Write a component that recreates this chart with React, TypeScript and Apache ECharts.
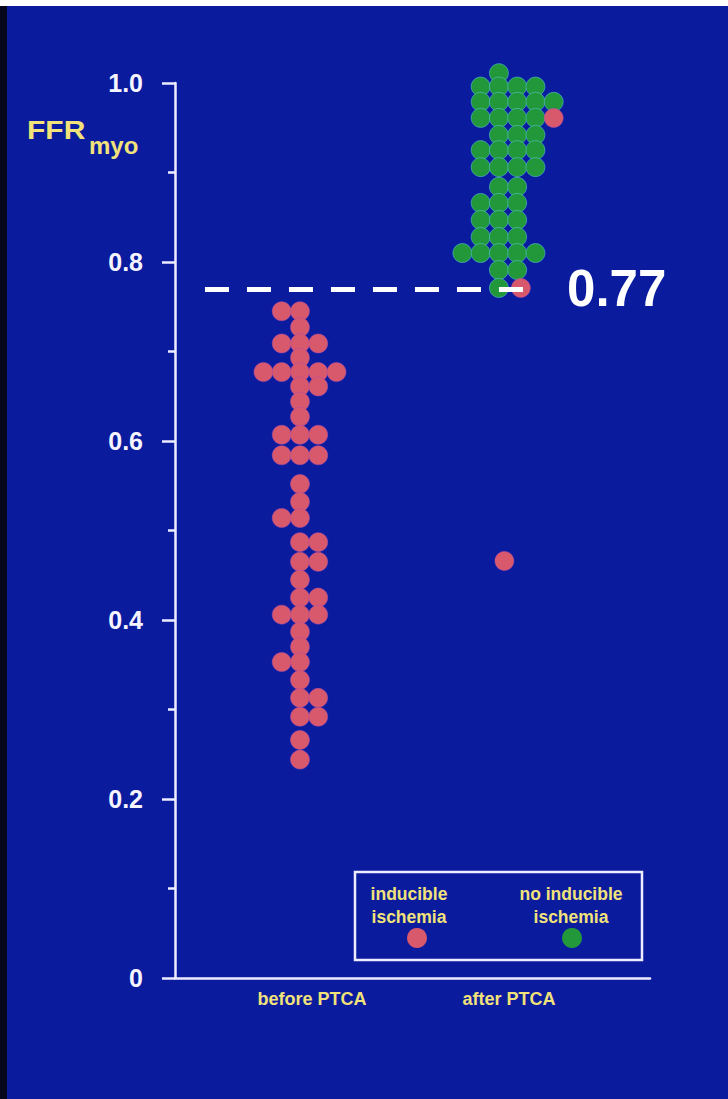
import { useEffect, useRef } from 'react';
import * as echarts from 'echarts';

// Group labels on the horizontal axis and where each group's column of dots sits
// (x is measured in dot widths).
const CATEGORIES = ['before PTCA', 'after PTCA'];
const GROUP_CENTERS = [6.84, 17.73];
const LABEL_POSITIONS = [7.5, 18.28];

// Each dot: [column offset from the group centre, FFRmyo]
const BEFORE_INDUCIBLE: [number, number][] = [
  [-1, 0.745], [0, 0.745],
  [0, 0.727],
  [-1, 0.709], [0, 0.709], [1, 0.709],
  [0, 0.693],
  [-2, 0.677], [-1, 0.677], [0, 0.677], [1, 0.677], [2, 0.677],
  [0, 0.661], [1, 0.661],
  [0, 0.644],
  [0, 0.627],
  [-1, 0.607], [0, 0.607], [1, 0.607],
  [-1, 0.584], [0, 0.584], [1, 0.584],
  [0, 0.552],
  [0, 0.532],
  [-1, 0.514], [0, 0.514],
  [0, 0.487], [1, 0.487],
  [0, 0.465], [1, 0.465],
  [0, 0.445],
  [0, 0.425], [1, 0.425],
  [-1, 0.406], [0, 0.406], [1, 0.406],
  [0, 0.387],
  [0, 0.37],
  [-1, 0.353], [0, 0.353],
  [0, 0.333],
  [0, 0.313], [1, 0.313],
  [0, 0.292], [1, 0.292],
  [0, 0.266],
  [0, 0.244],
];

const AFTER_NO_INDUCIBLE: [number, number][] = [
  [0, 1.011],
  [-1, 0.996], [0, 0.996], [1, 0.996], [2, 0.996],
  [-1, 0.979], [0, 0.979], [1, 0.979], [2, 0.979], [3, 0.979],
  [-1, 0.961], [0, 0.961], [1, 0.961], [2, 0.961],
  [0, 0.942], [1, 0.942], [2, 0.942],
  [-1, 0.925], [0, 0.925], [1, 0.925], [2, 0.925],
  [-1, 0.906], [0, 0.906], [1, 0.906], [2, 0.906],
  [0, 0.884], [1, 0.884],
  [-1, 0.866], [0, 0.866], [1, 0.866],
  [-1, 0.847], [0, 0.847], [1, 0.847],
  [-1, 0.828], [0, 0.828], [1, 0.828],
  [-2, 0.81], [-1, 0.81], [0, 0.81], [1, 0.81], [2, 0.81],
  [0, 0.791], [1, 0.791],
  [0, 0.771],
];

const AFTER_INDUCIBLE: [number, number][] = [
  [3, 0.961], [1.2, 0.771], [0.3, 0.466],
];

// Cut-off line and its extent along x
const THRESHOLD = 0.77;
const THRESHOLD_FROM = 1.64;
const THRESHOLD_TO = 19.05;

const FONT = '"Liberation Sans", Arial, Helvetica, sans-serif';
const BG = '#0a1b9e';
const AXIS = '#eeecff';
const YELLOW = '#f1e27a';
const RED = '#d8586c';
const GREEN = '#22983a';

const place = (pts: [number, number][], center: number) =>
  pts.map(([dx, v]) => [center + dx, v]);

const option: echarts.EChartsCoreOption = {
  animation: false,
  backgroundColor: BG,
  grid: { left: 175, right: 78, top: 83, bottom: 121, containLabel: false },
  xAxis: {
    type: 'value',
    min: 0,
    max: 26,
    axisLine: { show: true, lineStyle: { color: AXIS, width: 2.5 } },
    axisTick: { show: false },
    splitLine: { show: false },
    axisLabel: {
      customValues: LABEL_POSITIONS,
      formatter: (v: number) => {
        let best = 0;
        LABEL_POSITIONS.forEach((p, i) => {
          if (Math.abs(p - v) < Math.abs(LABEL_POSITIONS[best] - v)) best = i;
        });
        return CATEGORIES[best];
      },
      color: YELLOW,
      fontSize: 18,
      fontWeight: 'bold',
      fontFamily: FONT,
      margin: 12,
    },
  },
  yAxis: {
    type: 'value',
    min: 0,
    max: 1,
    interval: 0.2,
    axisLine: { show: true, lineStyle: { color: AXIS, width: 2.5 } },
    axisTick: { show: true, length: 13, lineStyle: { color: AXIS, width: 2.5 } },
    minorTick: { show: true, splitNumber: 2, length: 7, lineStyle: { color: AXIS, width: 2.5 } },
    splitLine: { show: false },
    minorSplitLine: { show: false },
    axisLabel: {
      formatter: (v: number) => (v === 0 ? '0' : v.toFixed(1)),
      color: '#f6f4ff',
      fontSize: 25,
      fontWeight: 'bold',
      fontFamily: FONT,
      margin: 32,
    },
  },
  graphic: [
    { type: 'rect', silent: true, shape: { x: 0, y: 0, width: 728, height: 6 }, style: { fill: '#ffffff' } },
    { type: 'rect', silent: true, shape: { x: 0, y: 6, width: 7, height: 1093 }, style: { fill: '#06061c' } },
    {
      type: 'text', silent: true, x: 27, y: 130, scaleX: 1.2,
      style: { text: 'FFR', fill: YELLOW, fontSize: 25, fontWeight: 'bold', fontFamily: FONT, align: 'left', verticalAlign: 'middle' },
    },
    {
      type: 'text', silent: true, x: 89, y: 145,
      style: { text: 'myo', fill: YELLOW, fontSize: 24, fontWeight: 'bold', fontFamily: FONT, align: 'left', verticalAlign: 'middle' },
    },
    // legend box
    {
      type: 'rect', silent: true, shape: { x: 355, y: 872, width: 287, height: 88 },
      style: { fill: 'none', stroke: AXIS, lineWidth: 2.5 },
    },
    {
      type: 'text', silent: true, x: 409, y: 905,
      style: { text: 'inducible\nischemia', fill: YELLOW, fontSize: 17.5, fontWeight: 'bold', fontFamily: FONT, align: 'center', verticalAlign: 'middle', lineHeight: 23 },
    },
    {
      type: 'text', silent: true, x: 571, y: 905,
      style: { text: 'no inducible\nischemia', fill: YELLOW, fontSize: 17.5, fontWeight: 'bold', fontFamily: FONT, align: 'center', verticalAlign: 'middle', lineHeight: 23 },
    },
    { type: 'circle', silent: true, shape: { cx: 417, cy: 938, r: 10 }, style: { fill: RED } },
    { type: 'circle', silent: true, shape: { cx: 572, cy: 938, r: 10 }, style: { fill: GREEN } },
  ],
  series: [
    {
      name: 'no inducible ischemia',
      type: 'scatter',
      clip: false,
      symbol: 'circle',
      symbolSize: 19,
      itemStyle: { color: GREEN, opacity: 1, borderColor: 'rgba(90,200,215,0.55)', borderWidth: 1 },
      data: place(AFTER_NO_INDUCIBLE, GROUP_CENTERS[1]),
      markLine: {
        silent: true,
        symbol: ['none', 'none'],
        lineStyle: { color: '#ffffff', width: 5, type: [24, 18] },
        label: {
          show: true,
          position: 'end',
          distance: 44,
          formatter: THRESHOLD.toFixed(2),
          color: '#ffffff',
          fontSize: 51,
          fontWeight: 'bold',
          fontFamily: FONT,
        },
        data: [[{ coord: [THRESHOLD_FROM, THRESHOLD] }, { coord: [THRESHOLD_TO, THRESHOLD] }]],
      },
    },
    {
      name: 'inducible ischemia',
      type: 'scatter',
      clip: false,
      symbol: 'circle',
      symbolSize: 19,
      itemStyle: { color: RED, opacity: 1, borderColor: 'rgba(180,80,170,0.5)', borderWidth: 1 },
      data: [
        ...place(BEFORE_INDUCIBLE, GROUP_CENTERS[0]),
        ...place(AFTER_INDUCIBLE, GROUP_CENTERS[1]),
      ],
    },
  ],
};

export default function App() {
  const ref = useRef<HTMLDivElement>(null);
  useEffect(() => {
    if (!ref.current) return;
    const chart = echarts.init(ref.current, null, { renderer: 'svg' });
    chart.setOption(option);
    return () => chart.dispose();
  }, []);
  return (
    <div
      ref={ref}
      style={{ position: 'fixed', left: 0, top: 0, width: 728, height: 1099 }}
    />
  );
}
